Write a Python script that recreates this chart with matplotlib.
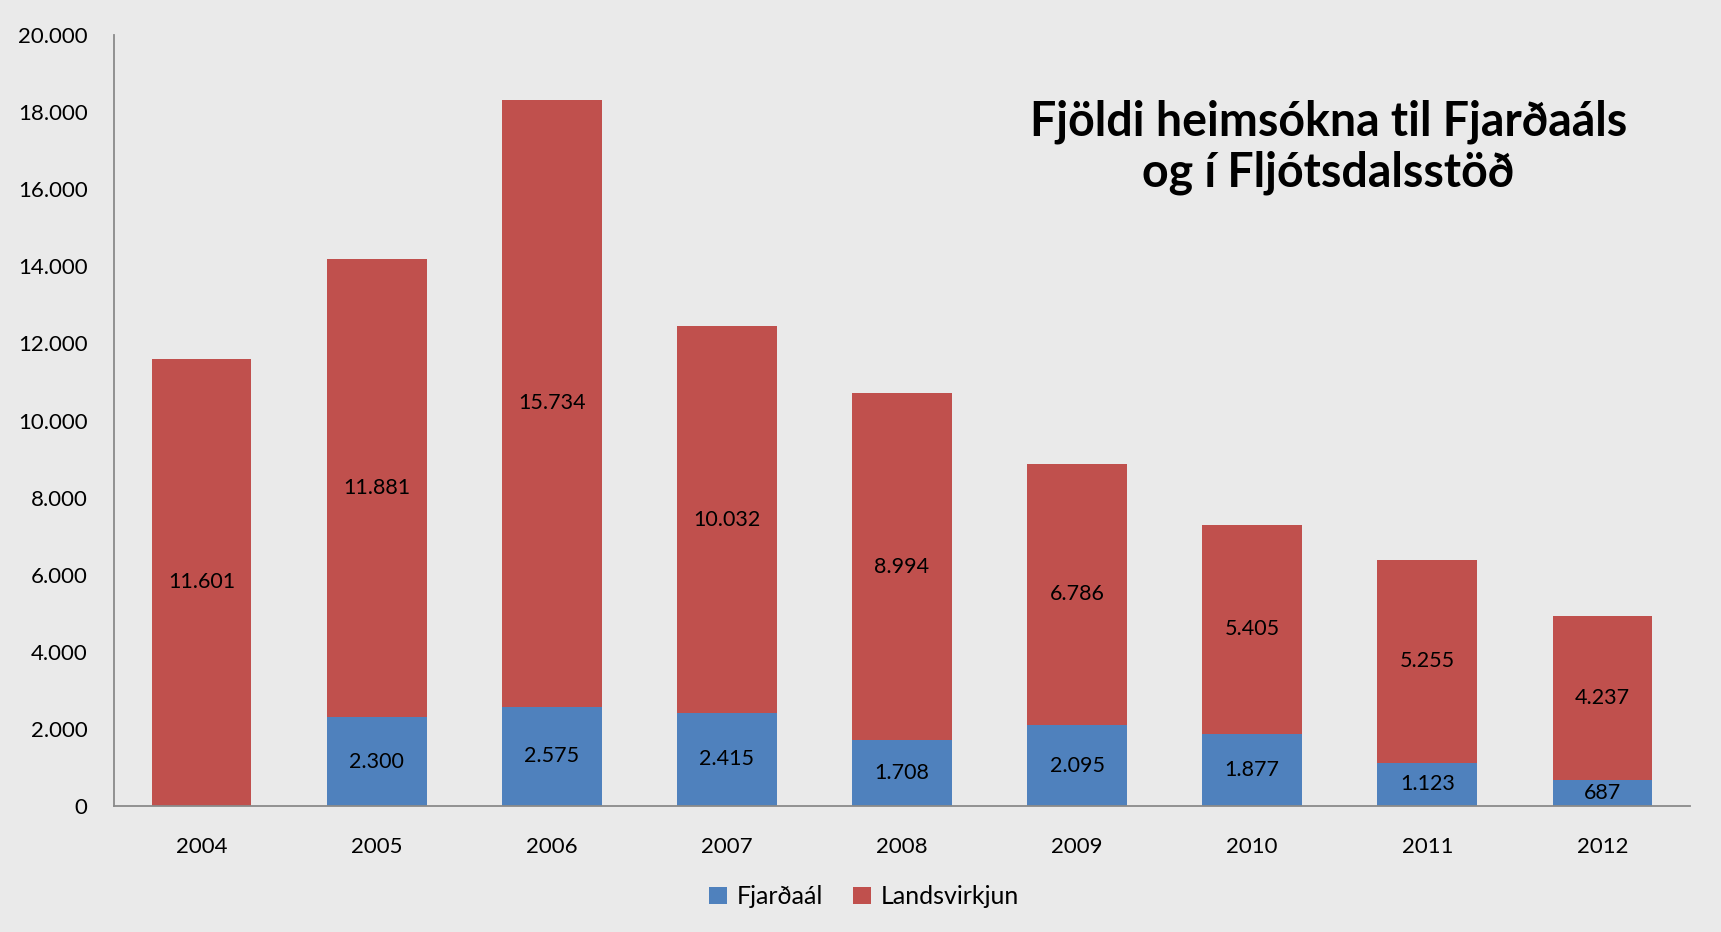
import numpy as np
import matplotlib
matplotlib.use("Agg")
import matplotlib.pyplot as plt
from matplotlib.ticker import FuncFormatter

# Data
years = ["2004", "2005", "2006", "2007", "2008", "2009", "2010", "2011", "2012"]
fjardaal = [0, 2300, 2575, 2415, 1708, 2095, 1877, 1123, 687]
landsvirkjun = [11601, 11881, 15734, 10032, 8994, 6786, 5405, 5255, 4237]
series_names = ["Fjarðaál", "Landsvirkjun"]
y_ticks = [0, 2000, 4000, 6000, 8000, 10000, 12000, 14000, 16000, 18000, 20000]

blue = "#4F81BD"
red = "#C0504D"
bg = "#EAEAEA"

plt.rcParams['font.family'] = ['Lato', 'DejaVu Sans']


def dotted(v, pos=None):
    # Icelandic thousands separator
    return f"{int(round(v)):,}".replace(",", ".")


fig = plt.figure(figsize=(17.21, 9.32), dpi=100, facecolor=bg)
ax = fig.add_axes([0.0662, 0.1352, 0.9158, 0.8272])
ax.set_facecolor(bg)

x = np.arange(len(years))
w = 0.57
b1 = ax.bar(x, fjardaal, w, color=blue, label=series_names[0], zorder=2)
b2 = ax.bar(x, landsvirkjun, w, bottom=fjardaal, color=red, label=series_names[1], zorder=2)

# segment labels, centred like Excel does
for i in range(len(years)):
    if fjardaal[i] > 0:
        ax.text(x[i], fjardaal[i] / 2, dotted(fjardaal[i]), ha="center", va="center",
                fontsize=15.5, color="black", zorder=3)
    ax.text(x[i], fjardaal[i] + landsvirkjun[i] / 2, dotted(landsvirkjun[i]),
            ha="center", va="center", fontsize=15.5, color="black", zorder=3)

ax.set_xlim(-0.5, len(years) - 0.5)
ax.set_ylim(0, 20000)
ax.set_yticks(y_ticks)
ax.yaxis.set_major_formatter(FuncFormatter(dotted))
ax.set_xticks(x)
ax.set_xticklabels(years)
ax.tick_params(axis="y", length=0, pad=19, labelsize=16)
ax.tick_params(axis="x", length=0, pad=22, labelsize=16)

for s in ["top", "right"]:
    ax.spines[s].set_visible(False)
for s in ["left", "bottom"]:
    ax.spines[s].set_color("#8A8A8A")
    ax.spines[s].set_linewidth(1.3)

fig.text(0.772, 0.842, "Fjöldi heimsókna til Fjarðaáls\nog í Fljótsdalsstöð",
         ha="center", va="center", fontsize=33.5, fontweight="bold", linespacing=1.2)

fig.legend(handles=[b1, b2], labels=series_names, loc="center", bbox_to_anchor=(0.502, 0.0376),
           ncol=2, frameon=False, fontsize=18, handlelength=0.7, handleheight=0.7,
           handletextpad=0.4, columnspacing=1.2)

fig.savefig("out.png", dpi=100, facecolor=bg)
